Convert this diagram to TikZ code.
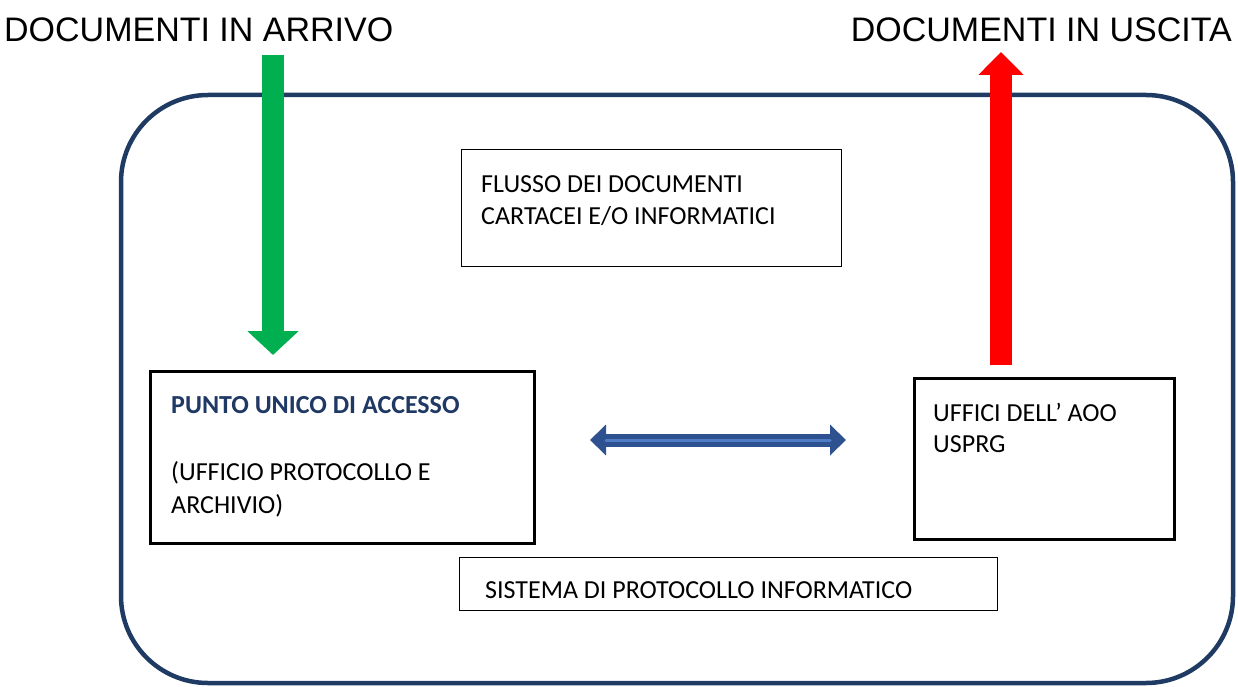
\documentclass[tikz,border=0pt]{standalone}
\usepackage{fontspec}
\setmainfont{Carlito}
\newfontfamily\arialf{Liberation Sans}
\usetikzlibrary{arrows.meta}
\definecolor{frameblue}{HTML}{1F3B63}
\definecolor{arrgreen}{HTML}{00B050}
\definecolor{arrred}{HTML}{FF0000}
\definecolor{dblue}{HTML}{2E5290}
\definecolor{lblue}{HTML}{4F7CC4}
\definecolor{titleblue}{HTML}{1F3864}
\tikzset{
  thinbox/.style={draw=black, line width=1.2pt, inner sep=0pt, anchor=north west},
  thickbox/.style={draw=black, line width=3pt, inner sep=0pt, anchor=north west},
  txt/.style={inner sep=0pt, anchor=base west, font=\fontsize{26}{31}\selectfont},
  bigtxt/.style={inner sep=0pt, font=\arialf\fontsize{34}{40}\selectfont},
  bigarrow/.style={line width=22pt},
}
\begin{document}
\begin{tikzpicture}[x=1pt,y=-1pt]
\useasboundingbox (0,0) rectangle (1238,687);
% outer frame
\draw[frameblue, line width=4.5pt, rounded corners=87pt] (121,95) rectangle (1233,683);
% titles
\node[bigtxt, anchor=base west] (tin) at (4,42) {DOCUMENTI IN ARRIVO};
\node[bigtxt, anchor=base east] (tout) at (1232,42) {DOCUMENTI IN USCITA};
% boxes
\node[thinbox, minimum width=380pt, minimum height=117pt] (flusso) at (461,149) {};
\node[thickbox, minimum width=384pt, minimum height=172pt] (punto) at (149,370) {};
\node[thickbox, minimum width=260pt, minimum height=161pt] (uffici) at (913,377) {};
\node[thinbox, minimum width=538pt, minimum height=53pt] (sistema) at (459,557) {};
% texts
\node[txt] (t1) at (481,192) {FLUSSO DEI DOCUMENTI};
\node[txt] (t2) at (481,224) {CARTACEI E/O INFORMATICI};
\node[txt, text=titleblue, font=\bfseries\fontsize{26}{31}\selectfont] (t3) at (171,413) {PUNTO UNICO DI ACCESSO};
\node[txt] (t4) at (171,480) {(UFFICIO PROTOCOLLO E};
\node[txt] (t5) at (171,513) {ARCHIVIO)};
\node[txt] (t6) at (933,421) {UFFICI DELL’ AOO};
\node[txt] (t7) at (933,452) {USPRG};
\node[txt] (t8) at (485,598) {SISTEMA DI PROTOCOLLO INFORMATICO};
% arrow ends
\coordinate (gs) at (273,55);
\coordinate (ge) at (273,355);
\coordinate (rs) at (1001,365);
\coordinate (re) at (1001,52);
\coordinate (ds) at (590,440);
\coordinate (de) at (846,440);
\coordinate (ls) at (606,440);
\coordinate (le) at (830,440);
% arrows
\draw[bigarrow, arrgreen, -{Triangle[width=50pt,length=24pt]}] (gs) -- (ge);
\draw[bigarrow, arrred, -{Triangle[width=44pt,length=23pt]}] (rs) -- (re);
\draw[dblue, line width=13pt, {Triangle[width=30pt,length=16pt]}-{Triangle[width=30pt,length=16pt]}] (ds) -- (de);
\draw[lblue, line width=3pt, line cap=round] (ls) -- (le);
\end{tikzpicture}
\end{document}
